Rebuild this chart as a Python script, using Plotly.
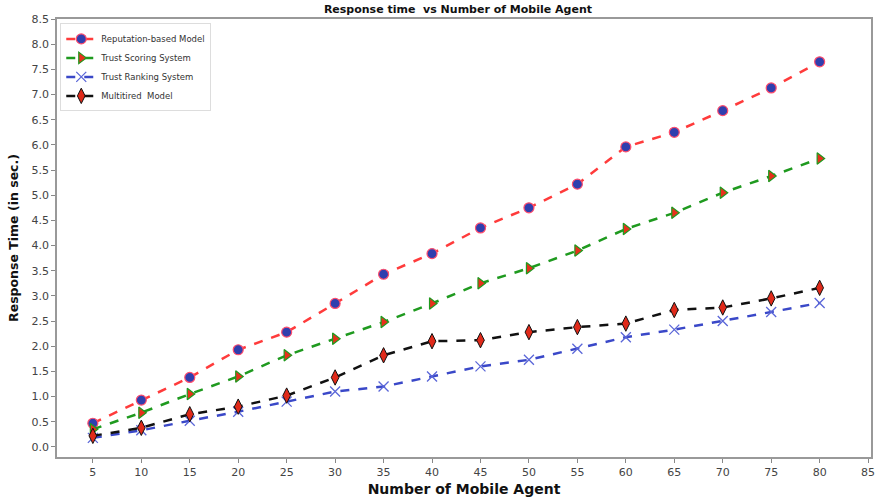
import plotly.graph_objects as go

agents = [5, 10, 15, 20, 25, 30, 35, 40, 45, 50, 55, 60, 65, 70, 75, 80]
reputation = [0.47, 0.93, 1.38, 1.93, 2.28, 2.85, 3.43, 3.84, 4.35, 4.75, 5.22, 5.96, 6.25, 6.68, 7.13, 7.65]
trust_scoring = [0.35, 0.68, 1.05, 1.40, 1.82, 2.15, 2.48, 2.85, 3.25, 3.55, 3.90, 4.33, 4.65, 5.05, 5.38, 5.73]
trust_ranking = [0.18, 0.33, 0.52, 0.70, 0.90, 1.10, 1.20, 1.40, 1.60, 1.73, 1.95, 2.18, 2.33, 2.50, 2.68, 2.86]
multitired = [0.22, 0.38, 0.65, 0.80, 1.02, 1.38, 1.82, 2.10, 2.12, 2.28, 2.38, 2.45, 2.72, 2.77, 2.95, 3.16]

x_ticks = list(range(5, 90, 5))
y_ticks = [i * 0.5 for i in range(18)]

fig = go.Figure()
fig.add_trace(go.Scatter(
    x=agents, y=reputation, name="Reputation-based Model", mode="lines+markers",
    line=dict(color="#ff3b3b", width=2.5, dash="dash"),
    marker=dict(symbol="circle", size=10, color="#2f3fae", line=dict(color="#ff4d6d", width=1.2))))
fig.add_trace(go.Scatter(
    x=agents, y=trust_scoring, name="Trust Scoring System", mode="lines+markers",
    line=dict(color="#1f9a1f", width=2.5, dash="dash"),
    marker=dict(symbol="triangle-right", size=10, color="#e8301c", line=dict(color="#1f9a1f", width=1.2))))
fig.add_trace(go.Scatter(
    x=agents, y=trust_ranking, name="Trust Ranking System", mode="lines+markers",
    line=dict(color="#3a48c8", width=2.5, dash="dash"),
    marker=dict(symbol="x-thin", size=10, color="#5a66d8", line=dict(color="#5a66d8", width=1.3))))
fig.add_trace(go.Scatter(
    x=agents, y=multitired, name="Multitired  Model", mode="lines+markers",
    line=dict(color="#111111", width=2.5, dash="dash"),
    marker=dict(symbol="diamond-tall", size=11, color="#e02a1a", line=dict(color="#111111", width=1))))

fig.update_layout(
    width=879, height=500,
    margin=dict(l=57, r=8, t=19, b=43),
    paper_bgcolor="white", plot_bgcolor="white",
    font=dict(family="DejaVu Sans", color="#222"),
    title=dict(text="<b>Response time  vs Number of Mobile Agent</b>", x=0.521, xanchor="center",
               y=0.99, yanchor="top", font=dict(size=11, color="#111")),
    legend=dict(x=0.004, y=0.99, xanchor="left", yanchor="top", bgcolor="rgba(255,255,255,0.9)",
                bordercolor="#dddddd", borderwidth=1, font=dict(size=8.5, color="#333"),
                tracegroupgap=0, itemwidth=30),
    xaxis=dict(range=[1.3, 85.3], tickvals=x_ticks, ticks="outside", ticklen=4, tickcolor="#888",
               showgrid=False, zeroline=False, showline=True, linecolor="#999", linewidth=1.5, mirror=True,
               tickfont=dict(size=11, color="#444"), automargin=False,
               title=dict(text="<b>Number of Mobile Agent</b>", font=dict(size=14, color="#111"), standoff=6)),
    yaxis=dict(range=[-0.2, 8.5], tickvals=y_ticks, tickformat=".1f", ticks="outside", ticklen=4, tickcolor="#888",
               showgrid=False, zeroline=False, showline=True, linecolor="#999", linewidth=1.5, mirror=True,
               tickfont=dict(size=11, color="#444"), automargin=False,
               title=dict(text="<b>Response Time (in sec.)</b>", font=dict(size=12.5, color="#111"), standoff=10)),
)

fig.write_html("out.html", config={"displayModeBar": False},
               post_script="document.body.style.margin='0';")
